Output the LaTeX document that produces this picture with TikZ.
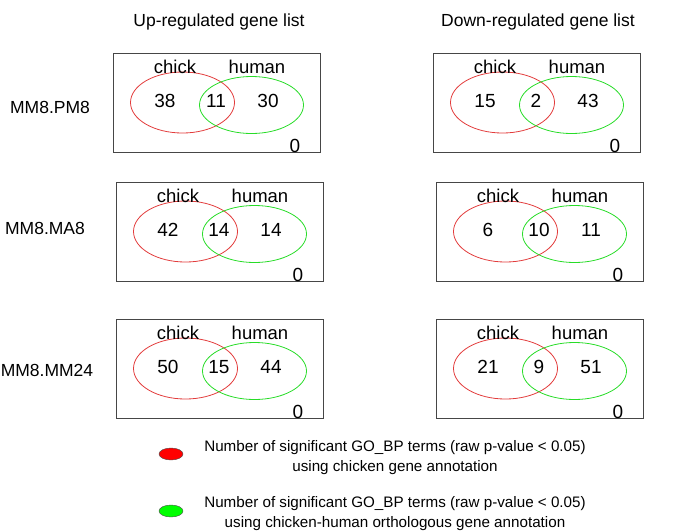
\documentclass[tikz,border=0pt]{standalone}
\usepackage{fontspec}
\setmainfont{Liberation Sans}
\usetikzlibrary{shapes.geometric}
\definecolor{chickred}{RGB}{226,60,60}
\definecolor{humangreen}{RGB}{40,220,40}
\definecolor{panelgray}{RGB}{70,70,70}
\tikzset{panel/.style={draw=panelgray,line width=1pt,anchor=north west,minimum width=207pt,minimum height=99pt,inner sep=0pt},
  chickset/.style={ellipse,draw=chickred,line width=0.8pt,minimum width=104pt,minimum height=61pt,inner sep=0pt},
  humanset/.style={ellipse,draw=humangreen,line width=0.8pt,minimum width=104pt,minimum height=57pt,inner sep=0pt},
  setname/.style={font=\fontsize{18.5}{20}\selectfont,inner sep=0pt},
  count/.style={font=\fontsize{19}{20}\selectfont,inner sep=0pt},
  heading/.style={font=\fontsize{17.5}{20}\selectfont},
  keytext/.style={font=\fontsize{15.2}{20}\selectfont,align=center}}

\begin{document}
\begin{tikzpicture}[x=1pt, y=-1pt]
\useasboundingbox (0,0) rectangle (685,531);
% column and row headings
\node[heading] (up) at (219,22) {Up-regulated gene list};
\node[heading] (down) at (538,22) {Down-regulated gene list};
\node[heading] (rpm) at (50,107) {MM8.PM8};
\node[heading] (rma) at (45,228) {MM8.MA8};
\node[heading] (rmm) at (47,370) {MM8.MM24};
% six Venn panels
\foreach \n/\x/\y/\a/\b/\c in {pu/113/53/38/11/30, pd/433/53/15/2/43,
    au/116/182/42/14/14, ad/436/182/6/10/11,
    mu/116/319/50/15/44, md/436/319/21/9/51}{
  \begin{scope}[shift={(\x,\y)}]
  \node[panel] (\n) at (0,0) {};
  \node[chickset] (\n-c) at (69.5,49.5) {};
  \node[humanset] (\n-h) at (138.5,52) {};
  \node[setname] (\n-cl) at (62,14) {chick};
  \node[setname] (\n-hl) at (144,14) {human};
  \node[count] (\n-a) at (52,48) {\a};
  \node[count] (\n-b) at (103,48) {\b};
  \node[count] (\n-d) at (155,48) {\c};
  \node[count] (\n-z) at (182,93) {0};
  \end{scope}
}
% legend
\node[ellipse,draw=black!70,fill=red,minimum width=24pt,minimum height=12pt,inner sep=0pt] (kc) at (171,454) {};
\node[ellipse,draw=black!70,fill=green,minimum width=24pt,minimum height=12pt,inner sep=0pt] (kh) at (171,511) {};
\node[keytext] (kct) at (395,458) {Number of significant GO\_BP terms (raw p-value < 0.05)\\using chicken gene annotation};
\node[keytext] (kht) at (395,514) {Number of significant GO\_BP terms (raw p-value < 0.05)\\using chicken-human orthologous gene annotation};
\end{tikzpicture}
\end{document}
